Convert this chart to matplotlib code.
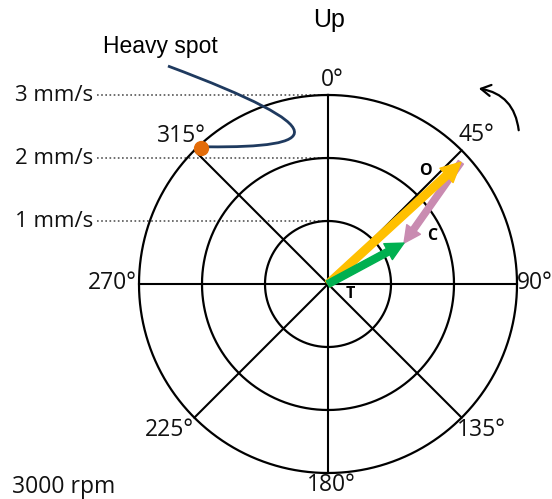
import numpy as np
import matplotlib
matplotlib.use("Agg")
import matplotlib.pyplot as plt
from matplotlib.patches import FancyArrowPatch, ArrowStyle, PathPatch
from matplotlib.path import Path

# amplitude rings (mm/s) and angle labels (deg, clockwise from up)
rings = [1, 2, 3]
ring_labels = ["1 mm/s", "2 mm/s", "3 mm/s"]
angles = [0, 45, 90, 135, 180, 225, 270, 315]
angle_labels = ["0°", "45°", "90°", "135°", "180°", "225°", "270°", "315°"]

# vectors: original run (O) and trial run (T), as (amplitude mm/s, phase deg)
O_amp, O_phase = 2.86, 47.5
T_amp, T_phase = 1.37, 61.7
heavy_amp, heavy_phase = 2.95, 317

def pol(r, deg):
    a = np.deg2rad(deg)
    return np.array([r * np.sin(a), r * np.cos(a)])

px = 63.0  # pixels per mm/s
W, H = 552, 499
cx, cy = 328, 284

def pix(x, y):
    # pixel position (from top-left) -> data coords
    return (x - cx) / px, (cy - y) / px

fig = plt.figure(figsize=(W / 100, H / 100), dpi=100)
ax = fig.add_axes([0, 0, 1, 1])
ax.set_xlim(-cx / px, (W - cx) / px)
ax.set_ylim(-(H - cy) / px, cy / px)
ax.axis("off")

# rings
t = np.linspace(0, 360, 721)
for r in rings:
    xy = np.array([pol(r, a) for a in t])
    ax.plot(xy[:, 0], xy[:, 1], color="black", lw=1.6, zorder=2)

# spokes
for a in angles[:4]:
    p1, p2 = pol(rings[-1], a), pol(rings[-1], a + 180)
    ax.plot([p1[0], p2[0]], [p1[1], p2[1]], color="black", lw=1.5, zorder=2)

# angle labels
lab_pos = {0: (332, 80), 45: (476, 135), 90: (535, 283), 135: (481, 430),
           180: (331, 485), 225: (169, 430), 270: (112, 283), 315: (181, 136)}
for a, s in zip(angles, angle_labels):
    ax.text(*pix(*lab_pos[a]), s, fontsize=16.5, family="Open Sans",
            ha="center", va="center", color="#111111")

# amplitude scale lines
for r, s in zip(rings, ring_labels):
    ax.plot([-(cx - 97) / px, 0], [r, r], color="#555555", lw=1.2,
            ls=(0, (1, 1.5)), zorder=1)
    ax.text(-(cx - 93) / px, r, s, fontsize=16, family="Open Sans",
            ha="right", va="center", color="#111111")

# vectors
O = pol(O_amp, O_phase)
T = pol(T_amp, T_phase)
vecs = [
    (O, T, "#C98BB1", dict(head_length=12, head_width=12, tail_width=4.5)),
    ((0, 0), O, "#FFC000", dict(head_length=14, head_width=14, tail_width=5.5)),
    ((0, 0), T, "#00B050", dict(head_length=13, head_width=13, tail_width=5)),
]
for tail, tip, c, st in vecs:
    ax.add_patch(FancyArrowPatch(tuple(tail), tuple(tip),
                                 arrowstyle=ArrowStyle.Simple(**st),
                                 color=c, mutation_scale=1,
                                 shrinkA=0, shrinkB=0, zorder=4))

for s, (x, y) in [("O", (425, 171)), ("C", (432, 236)), ("T", (350, 294))]:
    ax.text(*pix(x, y), s, fontsize=11.5, fontweight="bold",
            family="Open Sans", ha="center", va="center", zorder=5)

# heavy spot marker with pointer curve
hs = pol(heavy_amp, heavy_phase)
ax.plot(hs[0], hs[1], "o", color="#E36C09", ms=10, zorder=6)
verts = [(-2.54, 3.46), (0.19, 2.44), (-0.13, 2.16), (hs[0] + 0.1, hs[1] + 0.02)]
curve = Path(verts, [Path.MOVETO, Path.CURVE4, Path.CURVE4, Path.CURVE4])
ax.add_patch(PathPatch(curve, fc="none", ec="#1F3A5F", lw=2, zorder=5))
ax.text(*pix(160, 46), "Heavy spot", fontsize=16.5, family="Liberation Sans",
        ha="center", va="center")

ax.text(*pix(329, 20), "Up", fontsize=18, family="Liberation Sans",
        ha="center", va="center")
ax.text(*pix(12, 487), "3000 rpm", fontsize=16.5,
        family="Open Sans", ha="left", va="center", color="#111111")

# rotation direction
ax.add_patch(FancyArrowPatch(pix(519, 133), pix(476, 88),
                             connectionstyle="arc3,rad=0.4",
                             arrowstyle="->,head_length=7,head_width=4",
                             mutation_scale=1, color="black", lw=1.6))

fig.savefig("out.png", dpi=100)
